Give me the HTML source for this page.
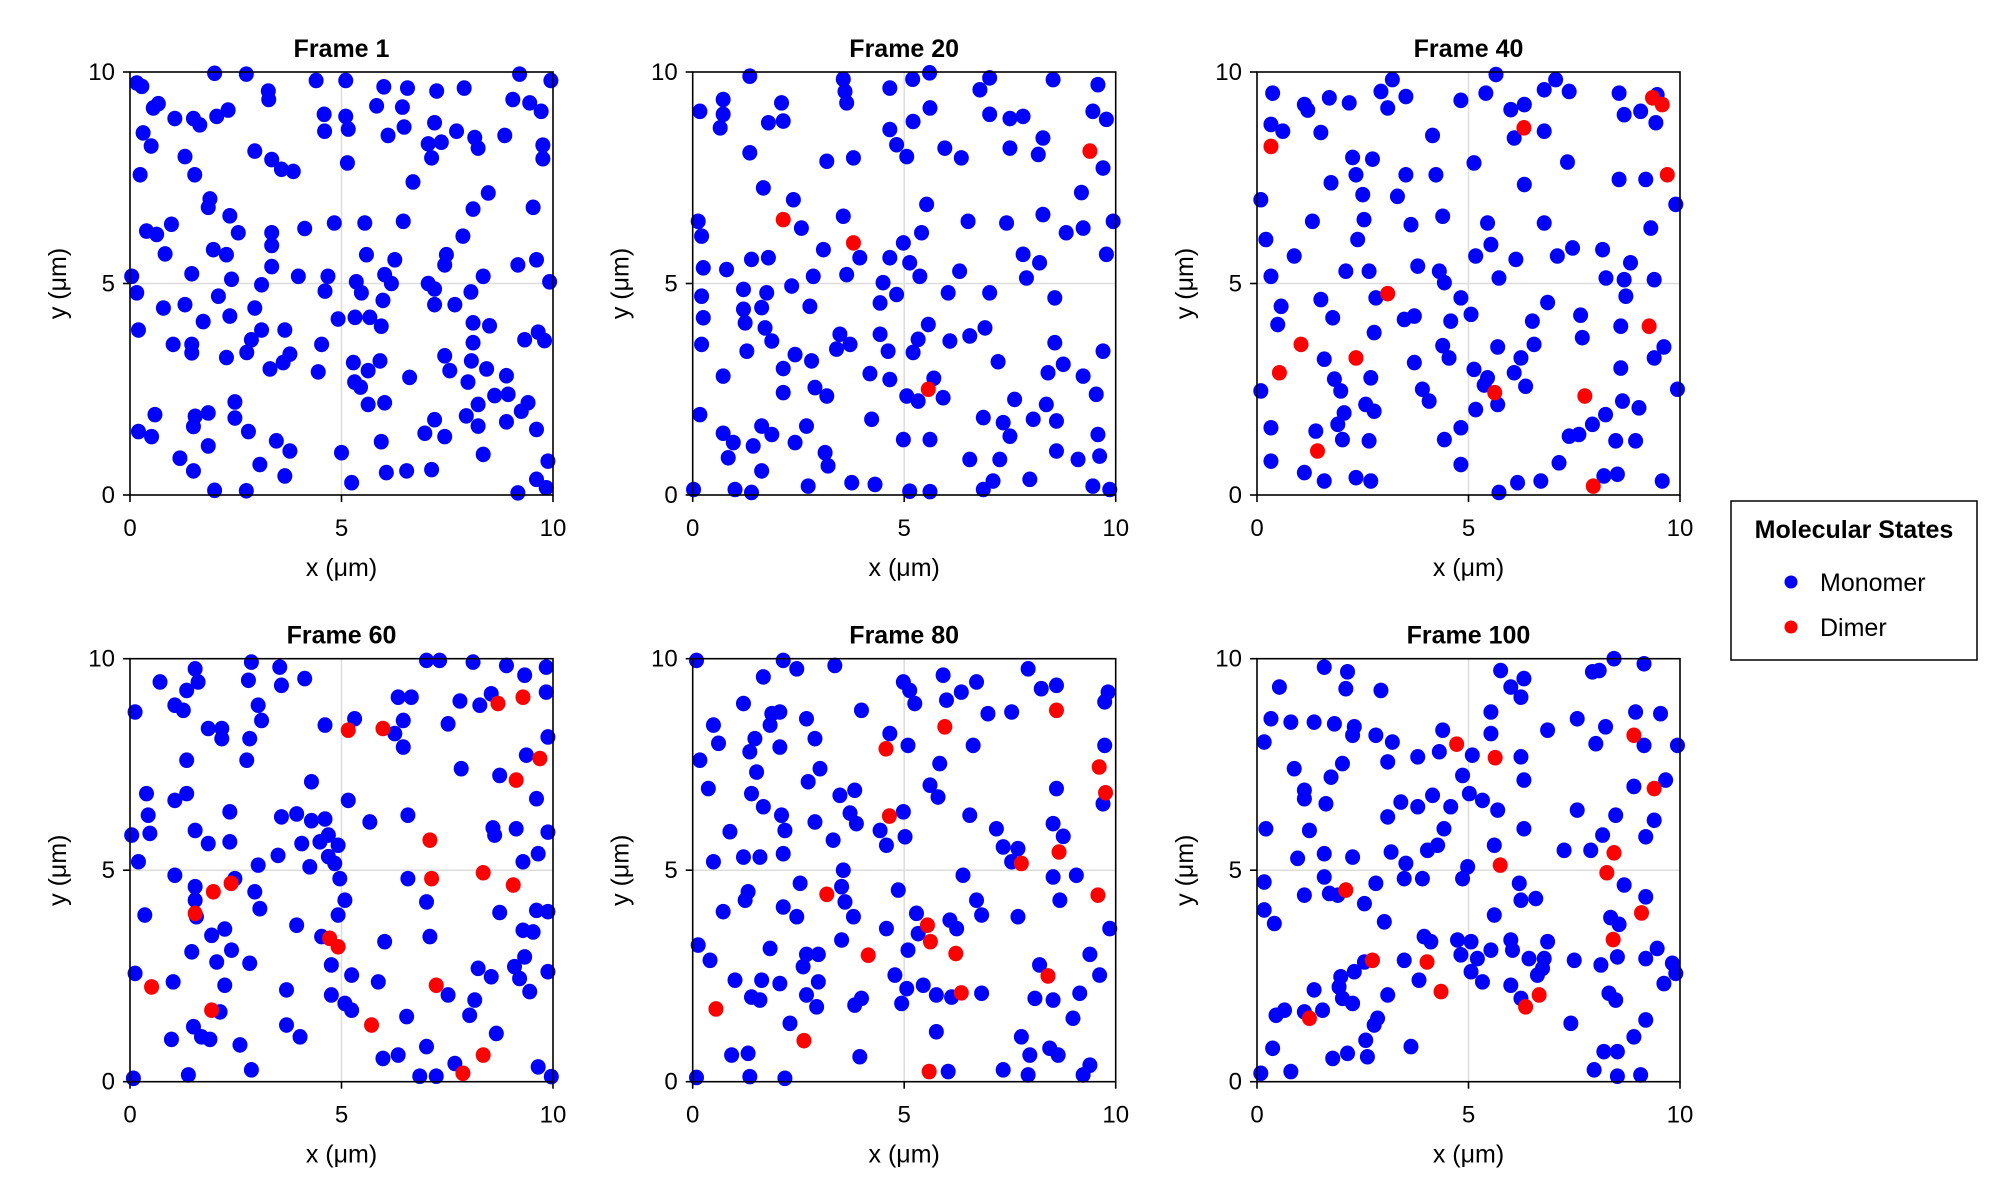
<!DOCTYPE html>
<html><head><meta charset="utf-8">
<style>
html,body{margin:0;padding:0;background:#fff;}
svg{display:block;font-family:"Liberation Sans",sans-serif;}
</style></head>
<body>
<svg id="chart" width="2000" height="1200" viewBox="0 0 2000 1200">
<g>
<rect x="1731" y="501" width="246" height="159" fill="#fff" stroke="#000" stroke-width="1.5"/>
<text x="1854" y="538" font-size="25" font-weight="bold" text-anchor="middle">Molecular States</text>
<circle cx="1791" cy="582" r="6.5" fill="#0000ff"/>
<text x="1820" y="591" font-size="25">Monomer</text>
<circle cx="1791" cy="627" r="6.5" fill="#ff0000"/>
<text x="1820" y="636" font-size="25">Dimer</text>
</g>
</svg>
<script>
const frameTitles=["Frame 1","Frame 20","Frame 40","Frame 60","Frame 80","Frame 100"];
const tickValues=[0,5,10];
const tickLabels=["0","5","10"];
const m1x=[.16,.28,2.0,2.75,3.27,3.28,4.4,5.1,6.0,6.56,7.25,7.9,9.21,9.95,.55,.67,1.06,1.5,1.65,2.05,2.32,9.05,9.45,9.72,4.59,5.1,5.16,5.83,6.44,4.6,6.48,7.2,.31,.5,6.1,7.05,7.36,7.72,8.15,8.23,8.86,9.76,9.76,7.13,1.3,2.95,3.35,3.58,3.86,5.14,.24,1.53,6.69,8.47,1.89,1.85,8.11,9.53,2.36,2.56,.39,.63,.98,4.13,4.83,5.55,6.46,3.35,3.35,7.87,1.97,2.28,.83,5.59,6.26,7.48,7.44,9.17,9.61,3.35,1.46,2.4,3.98,4.68,6.02,6.18,8.35,.04,9.92,3.11,4.61,5.35,5.47,7.05,7.2,8.06,.16,2.09,1.3,.79,2.95,7.2,7.68,5.98,2.36,1.73,5.32,5.67,4.92,5.94,8.11,8.5,.2,3.66,3.11,2.87,9.65,9.8,9.33,8.11,1.02,1.46,1.46,4.53,2.76,2.28,3.78,3.62,7.44,7.56,8.07,8.43,5.28,5.63,5.91,3.31,4.45,6.61,8.9,5.31,5.45,7.99,8.62,8.94,5.63,6.02,2.48,8.23,9.41,9.25,.59,1.54,1.5,1.85,2.48,7.2,7.95,8.23,8.9,.2,.51,2.8,6.97,7.44,9.61,3.46,3.78,1.85,5.94,5.0,8.35,1.18,3.07,1.5,6.06,6.54,7.13,9.88,3.66,5.24,2.0,2.75,9.17,9.61,9.84];
const m1y=[9.74,9.66,9.97,9.95,9.55,9.35,9.8,9.8,9.65,9.62,9.55,9.62,9.95,9.8,9.15,9.25,8.9,8.9,8.75,8.95,9.1,9.35,9.27,9.07,9.0,8.95,8.65,9.2,9.17,8.6,8.7,8.8,8.56,8.25,8.5,8.3,8.34,8.6,8.45,8.2,8.5,8.27,7.95,7.97,8.0,8.13,7.93,7.7,7.65,7.85,7.57,7.57,7.4,7.14,7.0,6.8,6.76,6.8,6.6,6.2,6.24,6.16,6.4,6.3,6.43,6.43,6.47,6.2,5.9,6.12,5.8,5.68,5.7,5.68,5.56,5.68,5.44,5.44,5.56,5.4,5.23,5.1,5.17,5.17,5.21,5.0,5.17,5.17,5.04,4.97,4.82,5.04,4.78,5.0,4.87,4.8,4.78,4.7,4.5,4.42,4.42,4.5,4.5,4.6,4.23,4.1,4.2,4.2,4.16,3.99,4.07,4.0,3.9,3.9,3.9,3.67,3.85,3.65,3.67,3.6,3.56,3.56,3.36,3.56,3.37,3.25,3.33,3.13,3.29,2.94,3.17,2.98,3.13,2.94,3.17,2.98,2.91,2.78,2.82,2.67,2.55,2.67,2.35,2.38,2.14,2.18,2.2,2.14,2.18,1.98,1.9,1.86,1.62,1.94,1.82,1.78,1.87,1.63,1.73,1.5,1.38,1.5,1.46,1.38,1.55,1.28,1.04,1.16,1.26,1.0,.96,.87,.72,.57,.53,.57,.6,.8,.45,.29,.11,.1,.05,.37,.17];
const d1x=[];
const d1y=[];
const m2x=[1.35,3.56,3.6,3.64,4.66,5.2,5.6,6.79,7.02,8.52,9.58,.72,.17,.72,.65,2.1,1.79,2.14,5.61,5.21,7.02,7.5,7.81,9.46,9.78,4.66,4.82,1.35,3.17,3.8,5.06,5.96,6.35,7.5,8.28,8.17,9.7,1.67,2.38,9.19,5.53,3.56,2.57,.13,.21,6.51,7.42,8.28,8.83,9.23,9.94,5.41,4.98,3.09,3.95,4.66,7.81,8.2,9.78,.25,.8,1.39,1.79,2.85,3.64,5.13,5.37,6.31,7.89,4.5,2.34,1.2,1.75,.21,4.82,6.04,7.02,8.56,4.43,2.77,1.2,1.63,.25,1.24,1.71,1.87,.21,1.28,5.57,6.91,3.48,3.4,3.72,4.43,4.62,5.33,5.21,6.08,6.55,2.42,2.81,8.56,9.7,7.22,8.76,2.14,.72,8.4,9.23,4.19,4.66,5.7,5.06,5.33,5.92,2.89,3.17,2.14,7.61,8.36,9.54,.17,4.23,2.69,1.63,1.87,6.87,7.34,7.5,8.05,8.6,.72,.96,1.43,2.42,4.98,5.61,9.58,8.6,3.13,3.2,.84,6.55,7.26,9.11,9.62,1.63,7.97,3.76,4.31,2.73,1.0,1.39,5.13,5.61,6.87,7.1,9.46,9.86,.02];
const m2y=[9.9,9.83,9.54,9.27,9.62,9.83,9.98,9.58,9.86,9.82,9.7,9.35,9.07,9.0,8.68,9.27,8.8,8.84,9.15,8.83,9.0,8.9,8.95,9.07,8.88,8.64,8.28,8.09,7.89,7.97,8.0,8.2,7.97,8.2,8.44,8.05,7.73,7.26,6.98,7.15,6.87,6.59,6.31,6.47,6.12,6.47,6.43,6.63,6.2,6.31,6.47,6.2,5.96,5.8,5.61,5.61,5.69,5.49,5.69,5.37,5.33,5.57,5.61,5.17,5.21,5.49,5.17,5.29,5.13,5.02,4.94,4.86,4.78,4.7,4.74,4.78,4.78,4.66,4.54,4.46,4.39,4.43,4.19,4.07,3.95,3.64,3.56,3.4,4.03,3.95,3.8,3.45,3.56,3.8,3.4,3.68,3.37,3.64,3.76,3.32,3.17,3.6,3.4,3.15,3.09,2.99,2.81,2.89,2.81,2.87,2.73,2.76,2.34,2.22,2.3,2.54,2.34,2.42,2.26,2.14,2.38,1.9,1.79,1.63,1.63,1.43,1.83,1.71,1.39,1.79,1.75,1.46,1.24,1.16,1.24,1.31,1.31,1.43,1.04,1.0,.69,.88,.84,.84,.84,.92,.57,.37,.29,.25,.21,.13,.06,.09,.08,.13,.33,.21,.13,.13];
const d2x=[2.14,3.8,9.39,5.57];
const d2y=[6.51,5.96,8.13,2.5];
const m3x=[.37,1.12,1.2,1.71,2.18,2.93,3.2,3.52,3.09,4.82,5.65,5.41,6.0,6.32,7.06,6.79,7.38,8.56,9.46,8.68,9.07,9.43,.33,.61,1.51,4.15,6.08,6.79,5.13,7.34,2.26,2.34,2.73,3.52,4.23,1.75,8.56,9.19,6.32,.09,2.5,3.32,9.9,1.31,2.53,3.64,4.39,5.45,6.79,9.31,.21,2.38,5.53,.88,5.17,6.12,7.1,7.46,8.17,8.83,.33,2.1,2.65,3.8,4.31,4.43,5.72,8.25,8.68,9.39,4.82,2.81,1.51,.57,8.72,6.87,5.06,3.48,3.72,1.79,7.65,.49,4.58,6.51,8.6,2.77,7.69,4.39,5.69,6.55,9.62,1.59,3.72,4.54,6.24,9.39,2.69,5.13,5.45,6.08,8.6,1.83,1.98,.09,5.37,6.35,3.91,4.07,8.64,9.03,9.94,2.57,2.77,5.69,5.17,2.06,8.24,7.93,1.91,.33,1.39,4.82,7.38,7.61,2.02,2.65,4.43,8.48,8.95,.33,4.82,7.14,1.12,1.59,2.34,2.69,6.16,6.71,8.2,8.52,5.72,9.58];
const m3y=[9.5,9.23,9.1,9.39,9.27,9.54,9.82,9.42,9.15,9.33,9.94,9.5,9.11,9.23,9.82,9.58,9.54,9.5,9.46,8.99,9.07,8.8,8.76,8.6,8.57,8.5,8.44,8.6,7.85,7.87,7.98,7.57,7.94,7.57,7.57,7.38,7.46,7.46,7.34,6.98,7.1,7.06,6.87,6.47,6.51,6.39,6.59,6.43,6.43,6.31,6.04,6.04,5.92,5.65,5.65,5.57,5.65,5.84,5.8,5.49,5.17,5.29,5.29,5.41,5.29,5.02,5.13,5.13,5.09,5.09,4.66,4.66,4.62,4.46,4.7,4.55,4.27,4.15,4.23,4.19,4.25,4.03,4.11,4.11,3.99,3.84,3.72,3.53,3.5,3.56,3.5,3.21,3.13,3.24,3.24,3.24,2.77,2.97,2.77,2.89,3.0,2.74,2.46,2.46,2.6,2.57,2.5,2.22,2.22,2.06,2.5,2.14,1.98,2.14,2.02,1.94,1.9,1.67,1.67,1.59,1.51,1.59,1.39,1.43,1.31,1.28,1.31,1.28,1.28,.8,.72,.76,.53,.33,.41,.33,.29,.33,.45,.49,.06,.33];
const d3x=[9.35,9.58,.33,6.31,9.7,3.09,9.27,1.04,2.34,.53,5.62,7.75,1.43,7.95];
const d3y=[9.39,9.23,8.24,8.68,7.57,4.76,3.99,3.56,3.24,2.89,2.42,2.34,1.04,.21];
const m4x=[1.54,2.87,3.54,4.13,2.8,.71,1.61,1.34,3.58,1.06,1.26,.12,3.03,3.11,1.85,2.17,2.17,2.83,4.61,5.31,6.34,6.65,6.46,6.26,6.46,7.01,7.32,8.11,8.9,9.33,9.84,9.84,7.8,8.27,8.54,7.52,9.88,9.37,7.83,8.74,9.61,1.34,2.76,4.29,.39,1.06,1.34,2.36,.43,.47,1.54,1.85,2.36,.2,.04,5.16,5.67,6.57,8.58,8.62,9.13,9.88,9.65,9.29,3.58,3.94,4.29,4.61,4.69,4.92,4.06,4.49,4.69,4.84,4.25,3.5,3.03,1.06,2.48,1.54,1.54,1.57,2.95,3.07,4.96,5.08,4.92,6.57,7.01,8.74,9.61,9.88,9.29,9.53,.35,3.94,2.24,1.93,2.4,1.46,2.05,2.83,4.53,6.02,7.09,4.76,5.24,.12,1.02,2.24,3.7,5.87,8.23,8.54,9.09,9.33,9.21,9.88,9.45,7.52,8.15,8.03,4.76,5.08,5.24,6.54,1.5,1.69,.98,1.89,2.6,3.7,4.02,2.13,8.66,7.01,6.34,5.98,1.38,2.87,6.85,7.24,7.68,9.65,9.96,.08];
const m4y=[9.76,9.92,9.8,9.53,9.49,9.45,9.45,9.25,9.37,8.9,8.78,8.74,8.9,8.54,8.35,8.35,8.11,8.11,8.43,8.58,9.09,9.09,8.54,8.23,7.91,9.96,9.96,9.92,9.84,9.61,9.8,9.21,9.0,8.9,9.17,8.46,8.15,7.72,7.4,7.24,6.69,7.6,7.6,7.09,6.81,6.65,6.81,6.38,6.3,5.87,5.94,5.63,5.67,5.2,5.83,6.65,6.14,6.3,6.0,5.83,5.98,5.9,5.39,5.2,6.26,6.33,6.17,6.21,5.83,5.59,5.63,5.67,5.32,5.16,5.08,5.35,5.12,4.88,4.8,4.61,4.29,3.9,4.49,4.09,4.8,4.29,3.94,4.8,4.25,4.0,4.05,4.02,3.58,3.54,3.94,3.7,3.61,3.46,3.11,3.07,2.83,2.8,3.43,3.31,3.43,2.76,2.52,2.56,2.36,2.28,2.17,2.36,2.68,2.48,2.72,2.95,2.44,2.6,2.13,2.05,1.93,1.57,2.05,1.85,1.69,1.54,1.3,1.06,1.0,1.0,.87,1.34,1.06,1.65,1.14,.83,.63,.55,.16,.28,.13,.13,.43,.35,.12,.08];
const d4x=[5.16,5.98,8.7,9.29,9.69,9.13,7.09,7.13,8.35,9.06,1.97,2.39,1.54,4.72,4.92,.51,1.93,5.71,7.24,8.35,7.87];
const d4y=[8.31,8.35,8.94,9.09,7.64,7.13,5.71,4.8,4.94,4.65,4.49,4.69,3.98,3.39,3.19,2.24,1.69,1.34,2.28,.63,.2];
const m5x=[2.14,2.46,3.36,1.67,.09,4.98,5.13,5.25,5.92,6.71,6.35,6.0,7.93,8.24,8.6,9.74,9.82,1.2,1.87,2.06,1.83,2.69,3.99,6.98,7.54,.49,.61,1.47,1.35,2.06,2.89,4.66,5.09,6.63,9.74,.17,1.51,3.01,2.73,.37,1.39,3.48,3.83,5.61,5.8,5.84,8.6,9.7,1.67,2.1,3.72,3.87,4.98,6.55,2.89,.88,2.18,3.32,4.43,4.58,5.02,7.18,7.34,7.69,8.52,8.76,1.2,1.59,2.14,.49,7.54,3.56,6.39,8.52,9.07,2.54,3.52,1.31,1.24,4.86,3.6,2.14,2.46,.72,3.8,5.29,6.08,6.24,6.71,6.83,7.69,8.68,9.86,4.58,3.52,5.33,.13,1.83,2.69,2.97,2.61,.41,5.09,9.39,8.2,9.62,4.78,1.0,1.63,2.06,2.97,5.06,5.45,5.76,6.12,6.83,1.39,1.59,2.69,2.93,3.99,3.83,4.94,8.09,8.52,9.15,8.99,2.3,5.76,7.77,7.97,8.44,8.64,.92,1.31,3.95,1.35,2.18,.09,6.04,7.34,7.93,9.23,9.39];
const m5y=[9.96,9.76,9.84,9.57,9.96,9.45,9.25,8.94,9.61,9.45,9.21,9.02,9.76,9.29,9.37,8.98,9.21,8.94,8.7,8.74,8.43,8.58,8.78,8.7,8.74,8.43,8.0,8.11,7.8,7.91,8.11,8.23,7.95,7.95,7.95,7.6,7.32,7.4,7.09,6.93,6.81,6.77,6.89,7.01,6.73,7.52,6.93,6.57,6.5,6.3,6.35,6.1,6.38,6.3,6.14,5.91,5.94,5.71,5.94,5.59,5.79,5.98,5.55,5.51,6.1,5.8,5.31,5.31,5.39,5.2,5.2,5.0,4.88,4.84,4.88,4.69,4.61,4.49,4.29,4.53,4.25,4.13,3.9,4.02,3.9,3.98,3.82,3.62,4.29,3.94,3.9,4.29,3.62,3.62,3.35,3.5,3.23,3.15,3.01,3.01,2.72,2.87,3.11,3.01,2.76,2.52,2.52,2.4,2.4,2.32,2.36,2.2,2.28,2.05,2.0,2.09,2.0,1.93,2.05,1.77,1.97,1.81,1.85,1.97,1.93,2.09,1.5,1.38,1.18,1.06,.63,.79,.63,.63,.67,.59,.12,.08,.1,.24,.28,.16,.16,.39];
const d5x=[8.6,5.96,4.57,9.61,9.76,4.65,8.66,7.77,3.17,9.58,5.55,5.62,6.22,4.15,8.4,6.35,.55,2.63,5.59];
const d5y=[8.78,8.39,7.87,7.44,6.83,6.28,5.43,5.16,4.43,4.41,3.7,3.31,3.03,2.99,2.5,2.1,1.72,.97,.24];
const m6x=[1.59,2.14,2.1,.53,2.93,5.76,6.31,6.0,6.24,7.93,8.09,9.15,8.44,.33,.8,1.35,1.83,2.3,2.26,.17,2.81,3.2,4.39,4.31,5.53,5.53,5.09,6.87,7.57,8.24,8.01,8.95,9.54,9.15,9.94,3.8,3.09,6.24,.88,2.02,1.75,6.31,4.86,1.12,1.12,1.63,3.4,3.8,4.15,4.58,5.02,5.33,5.69,8.91,9.66,.21,1.24,3.09,4.42,4.27,4.03,6.31,5.61,7.57,8.48,9.39,9.19,8.17,7.26,7.89,.96,1.59,2.26,3.17,3.52,4.98,4.86,3.48,3.91,2.81,1.59,.17,1.12,1.71,1.91,2.54,.17,.41,3.01,6.2,6.24,6.59,5.61,8.68,9.19,8.56,8.36,3.95,4.11,4.74,5.06,4.82,5.21,5.53,6.0,6.04,6.43,6.87,6.79,6.75,6.63,7.5,8.13,8.52,9.46,9.19,9.82,9.9,9.62,3.48,2.54,2.3,1.98,1.94,3.83,5.06,5.33,1.35,2.02,2.26,3.09,6.0,6.24,8.32,8.48,.45,.65,1.12,1.55,2.85,2.77,9.19,7.42,8.91,2.57,3.64,.37,1.79,2.14,2.61,.8,.09,8.2,8.52,7.97,8.52,9.07];
const m6y=[9.8,9.69,9.29,9.33,9.25,9.72,9.53,9.33,9.09,9.69,9.72,9.88,10.0,8.58,8.5,8.5,8.46,8.39,8.19,8.03,8.19,8.03,8.31,7.8,8.74,8.23,7.72,8.31,8.58,8.39,7.99,8.74,8.7,7.95,7.95,7.68,7.56,7.68,7.4,7.52,7.2,7.13,7.24,6.89,6.69,6.57,6.61,6.5,6.77,6.5,6.81,6.65,6.42,6.98,7.13,5.98,5.94,6.26,5.98,5.59,5.47,5.98,5.59,6.42,6.3,6.18,5.79,5.83,5.47,5.47,5.28,5.39,5.31,5.43,5.16,5.08,4.8,4.8,4.8,4.69,4.84,4.72,4.41,4.45,4.41,4.21,4.06,3.74,3.78,4.69,4.29,4.33,3.94,4.65,4.37,3.72,3.88,3.43,3.31,3.35,3.31,3.0,2.91,3.11,3.35,3.11,2.91,3.31,2.91,2.68,2.52,2.87,2.76,2.95,3.15,2.91,2.8,2.56,2.32,2.87,2.83,2.6,2.48,2.24,2.4,2.6,2.36,2.17,1.97,1.85,2.05,2.28,1.97,2.09,1.93,1.57,1.69,1.65,1.69,1.5,1.34,1.46,1.38,1.06,.98,.83,.79,.55,.67,.59,.24,.2,.71,.71,.28,.13,.16];
const d6x=[4.72,5.63,8.91,9.39,8.44,5.75,8.27,2.1,9.09,8.42,2.73,4.02,4.35,6.67,6.35,1.24];
const d6y=[7.98,7.66,8.19,6.93,5.41,5.12,4.94,4.53,3.99,3.36,2.87,2.83,2.13,2.05,1.77,1.5];

const monoX=[m1x,m2x,m3x,m4x,m5x,m6x];
const monoY=[m1y,m2y,m3y,m4y,m5y,m6y];
const dimX=[d1x,d2x,d3x,d4x,d5x,d6x];
const dimY=[d1y,d2y,d3y,d4y,d5y,d6y];

const NS="http://www.w3.org/2000/svg";
const svg=document.getElementById('chart');
const colLeft=[130,692.7,1257];
const rowTop=[72,658.7];
const W=423,H=423;
function mk(tag,attrs,parent){const e=document.createElementNS(NS,tag);for(const k in attrs)e.setAttribute(k,attrs[k]);parent.appendChild(e);return e;}

for(let p=0;p<6;p++){
  const L=colLeft[p%3],T=rowTop[Math.floor(p/3)];
  const sx=v=>L+v/10*W;
  const sy=v=>T+H-v/10*H;
  const g=mk('g',{},svg);
  
  
  const gx=mk('line',{x1:sx(5),x2:sx(5),y1:T,y2:T+H,stroke:'#dddddd','stroke-width':1.5},g);
  
  
  const gy=mk('line',{x1:L,x2:L+W,y1:sy(5),y2:sy(5),stroke:'#dddddd','stroke-width':1.5},g);
  
  
  const mg=mk('g',{fill:'#0000ff'},g);
  
  
  for(let i=0;i<monoX[p].length;i++){
    const c=mk('ellipse',{cx:sx(monoX[p][i]),cy:sy(monoY[p][i]),rx:7.5,ry:7.8},mg);
    
    
  }
  const dg=mk('g',{fill:'#ff0000'},g);
  
  
  for(let i=0;i<dimX[p].length;i++){
    const c=mk('ellipse',{cx:sx(dimX[p][i]),cy:sy(dimY[p][i]),rx:7.5,ry:7.8},dg);
    
    
  }
  const fr=mk('rect',{x:L,y:T,width:W,height:H,fill:'none',stroke:'#000','stroke-width':1.6},g);
  
  
  for(let i=0;i<tickValues.length;i++){
    const v=tickValues[i];
    const tx=mk('line',{x1:sx(v),x2:sx(v),y1:T+H,y2:T+H+7,stroke:'#000','stroke-width':1.6},g);
    
    
    const lx=mk('text',{x:sx(v),y:T+H+41,'font-size':24,'text-anchor':'middle'},g);
    lx.textContent=tickLabels[i];
    
    
    const ty=mk('line',{x1:L-7,x2:L,y1:sy(v),y2:sy(v),stroke:'#000','stroke-width':1.6},g);
    
    
    const ly=mk('text',{x:L-15,y:sy(v)+8,'font-size':24,'text-anchor':'end'},g);
    ly.textContent=tickLabels[i];
    
    
  }
  const t=mk('text',{x:L+W/2,y:T-15,'font-size':25,'font-weight':'bold','text-anchor':'middle'},g);
  t.textContent=frameTitles[p];
  
  
  const xl=mk('text',{x:L+W/2,y:T+H+81,'font-size':25,'text-anchor':'middle'},g);
  xl.textContent='x (μm)';
  
  
  const yl=mk('text',{x:0,y:0,'font-size':25,'text-anchor':'middle',transform:`translate(${L-64},${T+H/2}) rotate(-90)`},g);
  yl.textContent='y (μm)';
  
  
}
</script>
</body></html>
